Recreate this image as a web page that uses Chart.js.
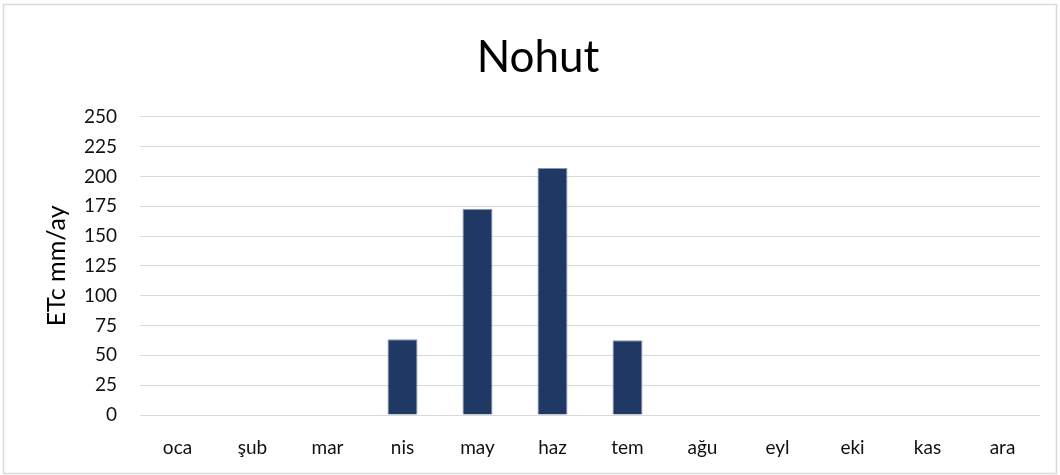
<!DOCTYPE html>
<html>
<head>
<meta charset="utf-8">
<script src="https://cdn.jsdelivr.net/npm/chart.js@4/dist/chart.umd.min.js"></script>
<style>
  html, body { margin: 0; padding: 0; background: #fff; }
  #wrap { position: relative; width: 1060px; height: 475px; }
</style>
</head>
<body>
<div id="wrap"><canvas id="chart" width="1060" height="475"></canvas></div>
<script>
const months = ['oca', 'şub', 'mar', 'nis', 'may', 'haz', 'tem', 'ağu', 'eyl', 'eki', 'kas', 'ara'];
const etcValues = [0, 0, 0, 63.5, 172.6, 207, 62.7, 0, 0, 0, 0, 0];
const yTicks = [0, 25, 50, 75, 100, 125, 150, 175, 200, 225, 250];

const fontFamily = 'Lato, "Open Sans", sans-serif';

// white background + thin frame like the spreadsheet chart
const frame = {
    id: 'frame',
    beforeDraw(chart) {
        const c = chart.ctx;
        c.save();
        c.fillStyle = '#fff';
        c.fillRect(0, 0, chart.width, chart.height);
        c.strokeStyle = '#d9d9d9';
        c.lineWidth = 1.5;
        c.strokeRect(3.5, 4.5, chart.width - 7, chart.height - 6);
        c.restore();
    }
};

new Chart(document.getElementById('chart'), {
    type: 'bar',
    data: {
        labels: months,
        datasets: [{
            label: 'ETc',
            data: etcValues,
            backgroundColor: '#203864',
            borderColor: '#8797b2',
            borderWidth: 1,
            barPercentage: 0.4,
            categoryPercentage: 1
        }]
    },
    options: {
        responsive: false,
        animation: false,
        layout: { padding: { top: 10, left: 36, right: 20, bottom: 0 } },
        plugins: {
            legend: { display: false },
            tooltip: { enabled: false },
            title: {
                display: true,
                text: 'Nohut',
                color: '#000',
                font: { family: fontFamily, size: 44, weight: 'normal' },
                padding: { top: 21, bottom: 33 }
            }
        },
        scales: {
            x: {
                grid: { display: false, drawTicks: false },
                border: { display: false },
                ticks: {
                    color: '#111',
                    font: { family: fontFamily, size: 19 },
                    padding: 21,
                    maxRotation: 0
                },
                afterFit(scale) { scale.height = 60; }
            },
            y: {
                min: 0,
                max: 250,
                afterBuildTicks(axis) {
                    axis.ticks = yTicks.map(v => ({ value: v }));
                },
                grid: { color: '#d9d9d9', lineWidth: 1, drawTicks: false },
                border: { display: false },
                ticks: {
                    color: '#111',
                    font: { family: fontFamily, size: 19 },
                    padding: 23
                },
                title: {
                    display: true,
                    text: 'ETc mm/ay',
                    color: '#000',
                    font: { family: fontFamily, size: 25 },
                    padding: { top: 6, bottom: 0 }
                },
                afterFit(scale) { scale.width = 104; }
            }
        }
    },
    plugins: [frame]
});
</script>
</body>
</html>
